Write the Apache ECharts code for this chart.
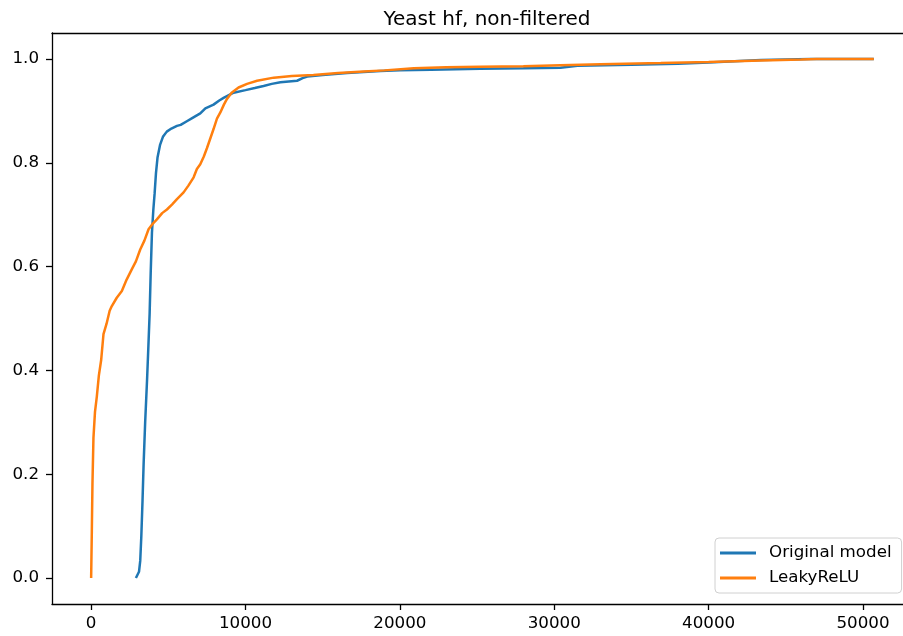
<!DOCTYPE html>
<html><head><meta charset="utf-8">
<script src="https://cdn.jsdelivr.net/npm/echarts@6/dist/echarts.min.js"></script>
<style>html,body{margin:0;padding:0;background:#fff}#c{width:903px;height:636px}</style>
</head><body><div id="c"></div>
<script>
const titleText = "Yeast hf, non-filtered";
const seriesNames = ["Original model", "LeakyReLU"];
const xTicks = [0, 10000, 20000, 30000, 40000, 50000];
const yTicks = [0, 0.2, 0.4, 0.6, 0.8, 1.0];
const originalModel = [[2900,0],[3000,0.003],[3100,0.012],[3180,0.033],[3250,0.08],[3330,0.15],[3400,0.22],[3500,0.3],[3620,0.38],[3700,0.44],[3790,0.51],[3860,0.59],[3940,0.666],[4030,0.71],[4110,0.74],[4200,0.78],[4300,0.81],[4470,0.835],[4650,0.85],[4900,0.86],[5200,0.866],[5560,0.871],[5800,0.873],[6200,0.88],[6600,0.887],[7070,0.895],[7400,0.905],[7930,0.912],[8300,0.92],[8580,0.925],[9230,0.935],[10000,0.94],[10600,0.944],[11170,0.948],[11700,0.952],[12260,0.955],[13340,0.958],[13700,0.963],[14000,0.966],[15000,0.969],[16580,0.973],[18740,0.977],[20000,0.978],[22000,0.979],[25200,0.981],[28000,0.982],[30400,0.983],[31500,0.987],[35000,0.989],[38000,0.991],[40000,0.993],[42000,0.996],[43400,0.998],[45000,0.999],[46600,1.0],[50700,1.0]];
const leakyReLU = [[0,0],[20,0.04],[45,0.09],[85,0.18],[150,0.27],[250,0.32],[370,0.35],[500,0.39],[650,0.42],[800,0.47],[1000,0.49],[1200,0.515],[1340,0.524],[1660,0.54],[1990,0.553],[2300,0.575],[2640,0.595],[2900,0.61],[3180,0.633],[3450,0.65],[3720,0.672],[4000,0.683],[4260,0.691],[4600,0.703],[4910,0.71],[5250,0.72],[5560,0.73],[5990,0.743],[6300,0.756],[6640,0.772],[6850,0.788],[7070,0.797],[7300,0.812],[7500,0.828],[7930,0.865],[8150,0.885],[8370,0.897],[8600,0.912],[8800,0.923],[9100,0.935],[9550,0.945],[10100,0.952],[10750,0.958],[11830,0.964],[13000,0.967],[14400,0.969],[16000,0.973],[17660,0.976],[19000,0.978],[20900,0.982],[23000,0.984],[25200,0.985],[28000,0.986],[30400,0.988],[33000,0.99],[36900,0.992],[40000,0.994],[43400,0.997],[46000,0.999],[47000,1.0],[50700,1.0]];

const FONT = 'DejaVu Sans';
const X_MIN = -2535, X_MAX = 52590;
const chart = echarts.init(document.getElementById('c'), null, {renderer: 'canvas'});
const lineCol = {color: '#000', width: 1.3};
chart.setOption({
  animation: false,
  backgroundColor: '#fff',
  title: {text: titleText, left: 482, textAlign: 'center', top: 5,
    textStyle: {fontFamily: FONT, fontSize: 20, fontWeight: 'normal', color: '#000'}},
  grid: {left: 52, top: 33, width: 851, height: 571, show: false},
  legend: {
    orient: 'vertical', left: 715, top: 538, padding: [5, 10, 5, 5], itemGap: 5,
    itemWidth: 36, itemHeight: 3, icon: 'rect',
    backgroundColor: 'rgba(255,255,255,0.8)', borderColor: '#d0d0d0', borderWidth: 1, borderRadius: 4,
    textStyle: {fontFamily: FONT, fontSize: 16.7, color: '#000', lineHeight: 20, padding: [0, 0, 0, 8]},
    data: seriesNames
  },
  xAxis: [{type: 'value', min: X_MIN, max: X_MAX,
    axisLine: {show: true, onZero: false, lineStyle: lineCol},
    axisTick: {show: true, customValues: xTicks, length: 6, lineStyle: lineCol},
    axisLabel: {customValues: xTicks, margin: 11, fontFamily: FONT, fontSize: 16.7, color: '#000',
      formatter: v => String(v)},
    splitLine: {show: false}},
    {type: 'value', position: 'top', min: X_MIN, max: X_MAX,
    axisLine: {show: true, onZero: false, lineStyle: lineCol},
    axisTick: {show: false}, axisLabel: {show: false}, splitLine: {show: false}}],
  yAxis: {type: 'value', min: -0.05, max: 1.05,
    axisLine: {show: true, onZero: false, lineStyle: lineCol},
    axisTick: {show: true, customValues: yTicks, length: 6, lineStyle: lineCol},
    axisLabel: {customValues: yTicks, margin: 13, fontFamily: FONT, fontSize: 16.7, color: '#000',
      formatter: v => v.toFixed(1)},
    splitLine: {show: false}},
  series: [
    {name: seriesNames[0], type: 'line', data: originalModel, showSymbol: false, symbol: 'none',
      lineStyle: {color: '#1f77b4', width: 2.5}, itemStyle: {color: '#1f77b4'}},
    {name: seriesNames[1], type: 'line', data: leakyReLU, showSymbol: false, symbol: 'none',
      lineStyle: {color: '#ff7f0e', width: 2.5}, itemStyle: {color: '#ff7f0e'}}
  ]
});
</script></body></html>
